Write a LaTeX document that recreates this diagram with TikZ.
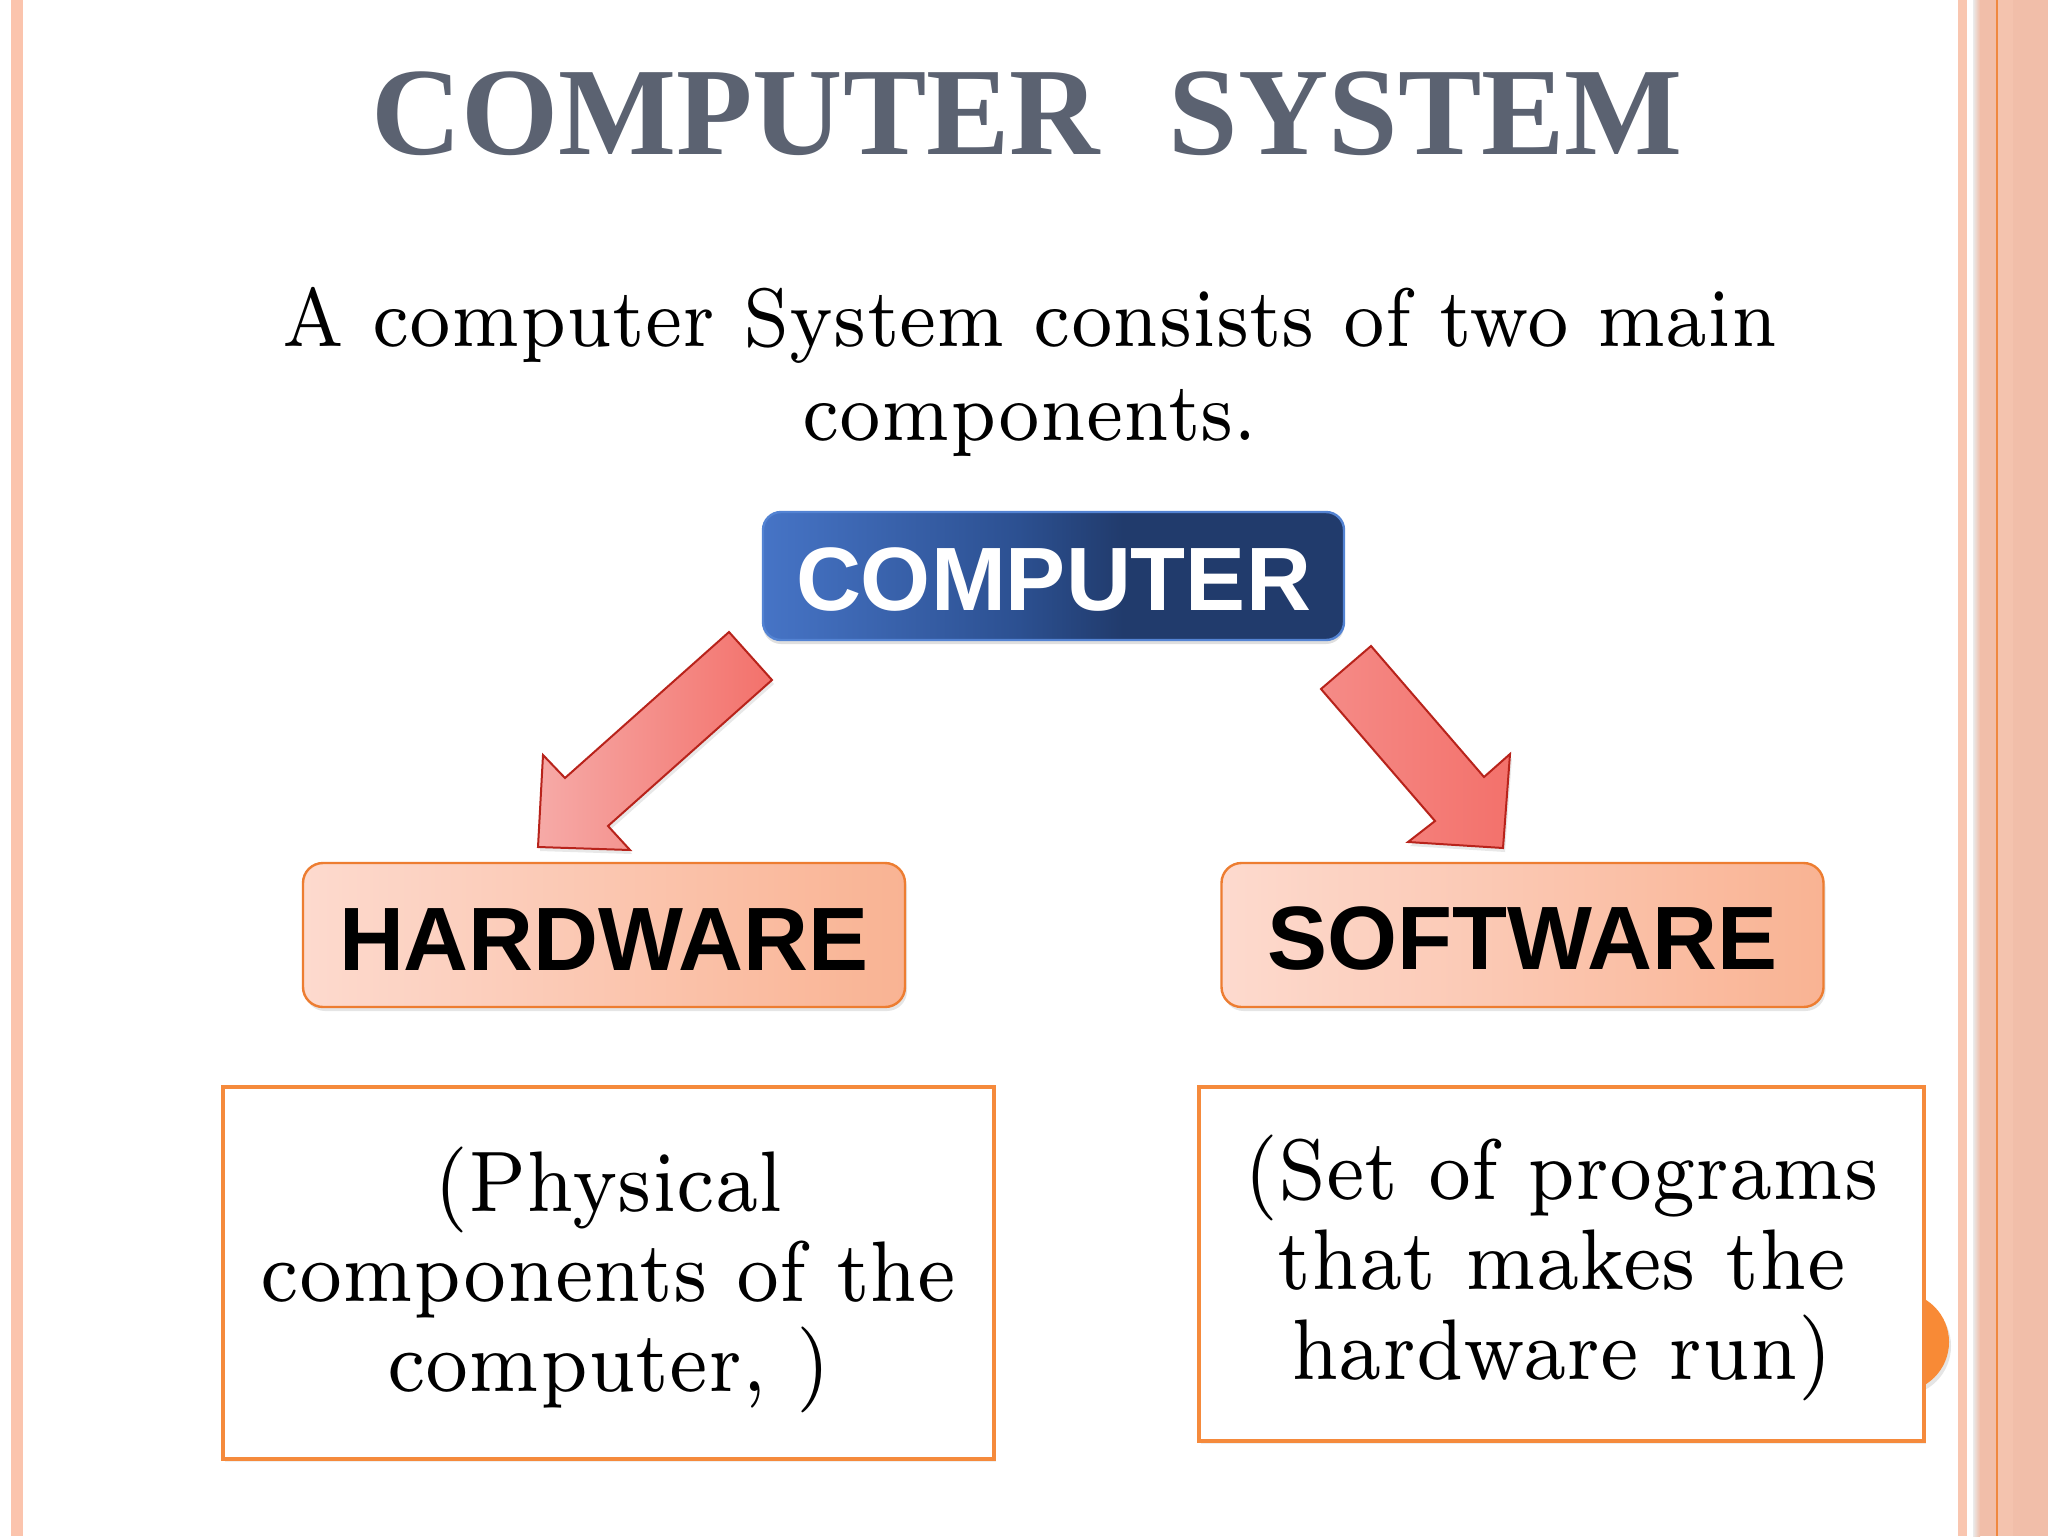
\documentclass[tikz,border=0pt]{standalone}
\usepackage{fontspec}
\newfontfamily\titlefont{Liberation Serif}
\newfontfamily\boxfont{Liberation Sans}
\newfontfamily\bodyfont{lmroman7-regular.otf}[FakeStretch=0.883]
\usetikzlibrary{shadows}
\definecolor{stripeA}{HTML}{FBC4AD}
\definecolor{stripeB}{HTML}{F9C6B0}
\definecolor{stripeC}{HTML}{F1BEA9}
\definecolor{stripeD}{HTML}{F4C3AE}
\definecolor{stripeLine}{HTML}{F0883F}
\definecolor{titlegray}{HTML}{5B6271}
\definecolor{cbL}{HTML}{4674C6}
\definecolor{cbM}{HTML}{2C5091}
\definecolor{cbR}{HTML}{213B6C}
\definecolor{cbBorder}{HTML}{5383D3}
\definecolor{pbL}{HTML}{FDDACE}
\definecolor{pbR}{HTML}{F9B393}
\definecolor{orangeLine}{HTML}{ED7D31}
\definecolor{descLine}{HTML}{F58A3C}
\definecolor{dotOrange}{HTML}{F88A36}
\definecolor{arrLight}{HTML}{F6AAA7}
\definecolor{arrMid}{HTML}{F58B87}
\definecolor{arrDark}{HTML}{F3716B}
\definecolor{arrBorder}{HTML}{B8231B}
\pgfdeclarehorizontalshading{compshade}{100bp}{color(0bp)=(cbL); color(25bp)=(cbL); color(47bp)=(cbM); color(56bp)=(cbR); color(100bp)=(cbR)}
\tikzset{
  titlestyle/.style={text=titlegray, font=\titlefont\bfseries\fontsize{62.5}{70}\selectfont, inner sep=0pt},
  bodytext/.style={text=black, font=\bodyfont\fontsize{41.5}{47}\selectfont, inner sep=0pt},
  compbox/.style={draw=cbBorder, line width=1.2pt, rounded corners=9pt, shading=compshade,
    minimum width=290.5pt, minimum height=64pt, inner sep=0pt, text=white,
    font=\boxfont\bfseries\fontsize{45}{50}\selectfont, text height=35pt,
    drop shadow={shadow xshift=0pt, shadow yshift=-2pt, opacity=0.25}},
  partbox/.style={draw=orangeLine, line width=1.2pt, rounded corners=10pt, left color=pbL, right color=pbR,
    minimum width=301pt, minimum height=72pt, inner sep=0pt, text=black,
    font=\boxfont\bfseries\fontsize{45}{50}\selectfont, text height=35pt,
    drop shadow={shadow xshift=1pt, shadow yshift=-2pt, opacity=0.2}},
  descbox/.style={draw=descLine, line width=2pt, fill=white, inner sep=0pt,
    drop shadow={shadow xshift=1pt, shadow yshift=-1.5pt, opacity=0.12}},
  desctext/.style={inner sep=0pt, align=center, font=\bodyfont\fontsize{43}{45}\selectfont},
  blockarrow/.style={draw=arrBorder, line width=1pt, line join=miter,
    drop shadow={shadow xshift=1pt, shadow yshift=-2pt, opacity=0.18}},
}
\begin{document}
\begin{tikzpicture}[x=0.5pt,y=-0.5pt]
\useasboundingbox (0,0) rectangle (2048,1536);
\fill[white] (0,0) rectangle (2048,1536);
% left border stripe
\fill[stripeA] (11,0) rectangle (23,1536);
% right border
\fill[stripeB] (1958,0) rectangle (1967,1536);
\shade[left color=black!8, right color=stripeC] (1973,0) rectangle (1980,1536);
\fill[stripeC] (1980,0) rectangle (2048,1536);
\fill[stripeD] (1998,0) rectangle (2013,1536);
\draw[stripeLine, line width=1pt] (1997,0) -- (1997,1536);

% title and intro
\node[titlestyle, anchor=base] (title) at (1027,155) {COMPUTER\hspace{0.55em}SYSTEM};
\node[bodytext, anchor=base] (intro1) at (1030,346) {A computer System consists of two main};
\node[bodytext, anchor=base] (intro2) at (1030,440) {components.};

% main boxes
\node[compbox] (computer) at (1053.5,576) {COMPUTER};
\node[partbox] (hardware) at (604,935) {HARDWARE};
\node[partbox] (software) at (1522.5,935) {SOFTWARE};

% block arrows
\draw[blockarrow, left color=arrLight, right color=arrDark]
  (729,632) -- (772,680) -- (608,826) -- (630,850) -- (538,847) -- (543,755) -- (565,778) -- cycle;
\draw[blockarrow, left color=arrMid, right color=arrDark]
  (1371,646) -- (1484,777) -- (1510,754) -- (1503,848) -- (1408,842) -- (1435,821) -- (1321,689) -- cycle;

% decorative dot behind right description box
\node[circle, fill=dotOrange, minimum size=50pt, inner sep=0pt,
  drop shadow={shadow xshift=1pt, shadow yshift=-2pt, opacity=0.2}] (dot) at (1899,1342) {};

% description boxes
\node[descbox, minimum width=385.5pt, minimum height=186pt] (hwdesc) at (608.5,1273) {};
\node[desctext] (hwtext) at (608.5,1280) {(Physical\\components of the\\computer, )};
\node[descbox, minimum width=362.5pt, minimum height=177pt] (swdesc) at (1561.5,1264) {};
\node[desctext] (swtext) at (1561.5,1268) {(Set of programs\\that makes the\\hardware run)};
\end{tikzpicture}
\end{document}
